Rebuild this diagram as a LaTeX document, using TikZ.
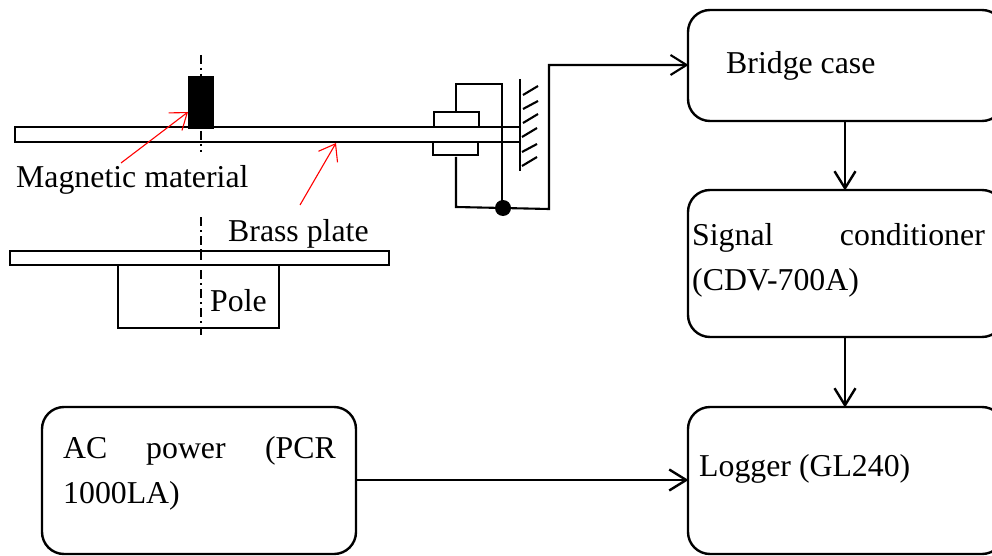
\documentclass[tikz,border=0pt]{standalone}
\usepackage{fontspec}
\setmainfont{Liberation Serif}
\usetikzlibrary{arrows.meta}
\tikzset{
  box/.style={draw=black,line width=2.4pt,rounded corners=22pt,minimum width=#1,inner sep=0pt,outer sep=0pt,anchor=north west},
  part/.style={draw=black,line width=2.1pt},
  wire/.style={draw=black,line width=2.1pt},
  flow/.style={draw=black,line width=2.4pt,-{Straight Barb[length=17pt,width=21pt,line width=2.4pt]}},
  redarrow/.style={draw=red,line width=1.1pt,-{Straight Barb[length=15pt,width=22pt,line width=1.1pt]}},
  label/.style={inner sep=0pt,anchor=base west,font=\fontsize{31.8pt}{36pt}\selectfont},
  axis/.style={draw=black,line width=1.4pt,dash pattern=on 9pt off 4pt on 2pt off 4pt},
}
\begin{document}
\begin{tikzpicture}[x=1pt,y=-1pt]
\useasboundingbox (0,0) rectangle (992,556);
\clip (0,0) rectangle (992,556);
% right column boxes
\node[box=316pt,minimum height=111pt] (bridge) at (688,10) {};
\node[box=316pt,minimum height=147pt] (signal) at (688,190) {};
\node[box=316pt,minimum height=147pt] (logger) at (688,407) {};
\node[box=314pt,minimum height=147pt] (power) at (42,407) {};
% box texts
\node[label] (tb) at (726,74) {Bridge case};
\node[label] (ts1) at (692,245) {Signal};
\node[label,anchor=base east] (ts2) at (985,245) {conditioner};
\node[label] (ts3) at (692,290) {(CDV-700A)};
\node[label] (tl) at (699,476) {Logger (GL240)};
\node[label] (ta1) at (63,458) {AC};
\node[label] (ta2) at (146,458) {power};
\node[label,anchor=base east] (ta3) at (336,458) {(PCR};
\node[label] (ta4) at (63,503) {1000LA)};
% flow arrows
\coordinate (b1) at (845,121);
\coordinate (s0) at (845,190.5);
\coordinate (s1) at (845,337);
\coordinate (l0) at (845,407.5);
\coordinate (p1) at (356,480);
\coordinate (l1) at (688.5,480);
\draw[flow] (b1) -- (s0);
\draw[flow] (s1) -- (l0);
\draw[flow] (p1) -- (l1);
% axis
\coordinate (a0) at (201,55); \coordinate (a1) at (201,152);
\coordinate (a2) at (201,217); \coordinate (a3) at (201,335);
\draw[axis] (a0) -- (a1);
\draw[axis] (a2) -- (a3);
% brass plate
\draw[part] (520,127) -- (15,127) -- (15,142) -- (520,142);
% magnet
\node[fill=black,inner sep=0pt,minimum width=26pt,minimum height=53pt,anchor=north west] (magnet) at (188,76) {};
% lower plate and pole
\draw[part,fill=white] (118,265) rectangle (279,328);
\draw[part,fill=white] (10,251) rectangle (389,265);
\draw[axis] (201,251) -- (201,335);
% clamp
\draw[part] (434,127) -- (434,112) -- (479,112) -- (479,127);
\draw[part] (433,142) -- (433,155) -- (478,155) -- (478,142);
% wall
\draw[line width=2.1pt] (520,79) -- (520,171);
\foreach \xa/\ya/\xb/\yb in {523/95/538/86,523/109/538/101,523/123/538/114,522/137/537/128,522/152/537/144,522/166/537/157}
  \draw[line width=2.1pt] (\xa,\ya) -- (\xb,\yb);
% wiring
\node[circle,fill=black,inner sep=0pt,minimum size=16pt] (dot) at (503,208) {};
\coordinate (u0) at (456,112);
\coordinate (d0) at (456,157);
\draw[wire] (u0) -- (456,84) -- (502,84) -- (502,208);
\draw[wire] (d0) -- (456,207) -- (dot.center);
\draw[wire,-{Straight Barb[length=16pt,width=20pt,line width=2.1pt]}] (dot.center) -- (549,209) -- (549,65) -- ([xshift=.5pt]bridge.west |- 0,65);
% red arrows
\coordinate (r0) at (121,163); \coordinate (r1) at (188,112);
\coordinate (r2) at (300,205); \coordinate (r3) at (336,143);
\draw[redarrow] (r0) -- (r1);
\draw[redarrow] (r2) -- (r3);
% left labels
\node[label] (tm) at (16,187) {Magnetic material};
\node[label] (tbp) at (228,241) {Brass plate};
\node[label] (tp) at (210,311) {Pole};
\end{tikzpicture}
\end{document}
